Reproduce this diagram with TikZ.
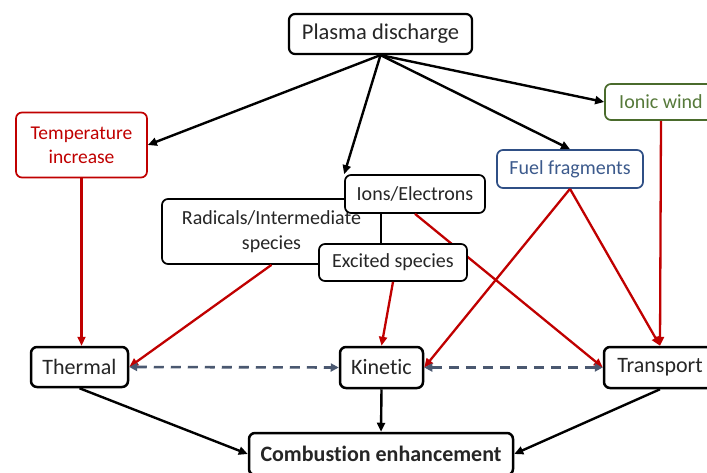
\documentclass[tikz,border=0pt]{standalone}
\usepackage{fontspec}
\setmainfont{Carlito}[Ligatures={NoCommon}]
\usetikzlibrary{arrows.meta}
\definecolor{myred}{HTML}{C00000}
\definecolor{mygreenb}{HTML}{4A6B2C}
\definecolor{mygreent}{HTML}{56793A}
\definecolor{mybluebd}{HTML}{2F4F85}
\definecolor{mybluet}{HTML}{3C5A8C}
\definecolor{myslate}{HTML}{4A5870}
\definecolor{txt}{HTML}{262626}
\begin{document}
\begin{tikzpicture}[x=1pt,y=-1pt,
  box/.style={draw=black, line width=2.2pt, rounded corners=6pt, fill=white, align=center, inner sep=0pt, text=txt},
  thinbox/.style={box, line width=1.7pt},
  fmid/.style={font=\fontsize{20}{25}\selectfont},
  fbig/.style={font=\fontsize{22}{26}\selectfont},
  tip/.style={-{Triangle[length=9pt,width=8pt]}},
  blk/.style={draw=black, line width=2.4pt, tip},
  redarr/.style={draw=myred, line width=2.3pt, tip},
  dsh/.style={draw=myslate, line width=2.6pt, dash pattern=on 10pt off 7pt,
     {Triangle[length=8pt,width=8pt]}-{Triangle[length=8pt,width=8pt]}}
]
\useasboundingbox (0,0) rectangle (707,472);
\clip (0,0) rectangle (707,472);

% top
\node[box, minimum width=183pt, minimum height=40pt, font=\fontsize{22.5}{27}\selectfont] (pd) at (380.5,34) {Plasma discharge};
\node[thinbox, draw=myred, text=myred, minimum width=131pt, minimum height=65pt, font=\fontsize{19.5}{24}\selectfont] (temp) at (81.5,145) {Temperature\\increase};
\node[thinbox, draw=mygreenb, text=mygreent, minimum width=112pt, minimum height=36pt, fmid] (ionic) at (661,102) {Ionic wind};
\node[thinbox, draw=mybluebd, text=mybluet, minimum width=146pt, minimum height=38pt, fmid] (fuel) at (570,169) {Fuel fragments};

% bottom row
\node[box, line width=2.5pt, minimum width=97pt, minimum height=40pt, fbig] (thermal) at (79.5,367) {Thermal};
\node[box, line width=2.5pt, minimum width=83pt, minimum height=41pt, fbig] (kinetic) at (381.5,367.5) {Kinetic};
\node[box, line width=2.5pt, minimum width=112pt, minimum height=41pt, fbig] (transport) at (660,367.5) {Transport};
\node[box, line width=2.5pt, minimum width=264pt, minimum height=42pt, font=\bfseries\fontsize{22}{26}\selectfont] (comb) at (381,454) {Combustion enhancement};

% middle cluster
\node[thinbox, minimum width=219pt, minimum height=65pt, fmid] (rad) at (271.5,231.5) {};
\node[fmid, text=txt, align=center, inner sep=0pt] (radtxt) at (271.5,231.5) {Radicals/Intermediate\\species};
\node[thinbox, minimum width=140pt, minimum height=38pt, fmid] (ions) at (415,194) {Ions/Electrons};
\draw[redarr] (ions.south) -- (transport.west);
\node[thinbox, minimum width=148pt, minimum height=37pt, fmid] (exc) at (393,262.5) {Excited species};

% black arrows from plasma
\draw[blk] (pd.south) -- (temp.east);
\draw[blk] (pd.south) -- (ions.north west);
\draw[blk] (pd.south) -- (fuel.north);
\draw[blk] (pd.south) -- (ionic.west);

% red arrows
\draw[redarr] (temp.south) -- (temp.south |- thermal.north);
\draw[redarr] (rad.south) -- (thermal.east);
\draw[redarr] (exc.south) -- (kinetic.north);
\draw[redarr] (fuel.south) -- (kinetic.east);
\draw[redarr] (fuel.south) -- (transport.north);
\draw[redarr] (ionic.south) -- (transport.north);

% dashed
\draw[dsh] (thermal.east) -- (kinetic.west);
\draw[dsh] (kinetic.east) -- (transport.west);

% to combustion
\draw[blk] (thermal.south) -- (comb.west);
\draw[blk] (kinetic.south) -- (comb.north);
\draw[blk] (transport.south) -- (comb.east);
\end{tikzpicture}
\end{document}
